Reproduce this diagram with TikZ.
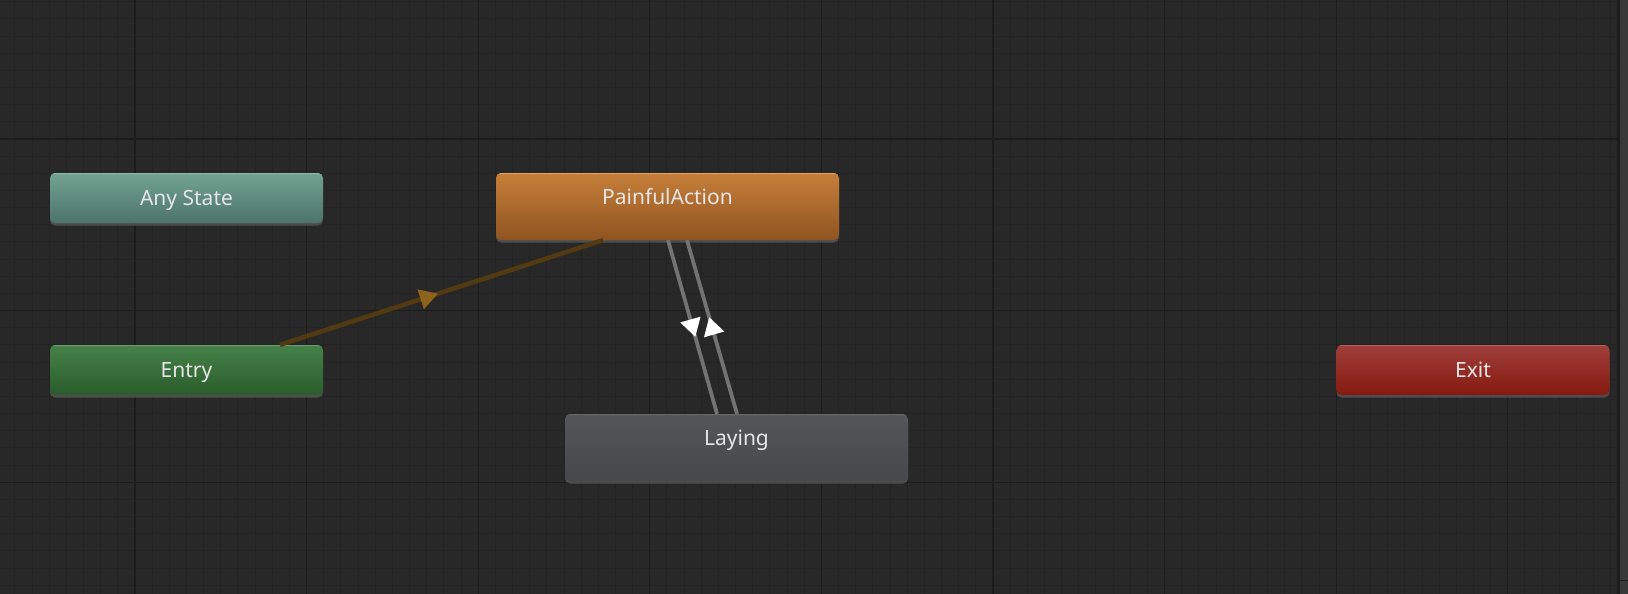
\documentclass[tikz,border=0pt]{standalone}
\usepackage{fontspec}
\setmainfont{Noto Sans}
\usetikzlibrary{arrows.meta,calc,decorations.markings,shadows}
\definecolor{bg}{HTML}{282828}
\definecolor{minorc}{HTML}{232323}
\definecolor{majorc}{HTML}{1C1C1C}
\definecolor{txt}{HTML}{E6E6E6}
\definecolor{anyT}{HTML}{72A393}
\definecolor{anyB}{HTML}{4C7468}
\definecolor{anyD}{HTML}{8DB8A9}
\definecolor{entT}{HTML}{468249}
\definecolor{entB}{HTML}{2A5C2B}
\definecolor{entD}{HTML}{6A9E70}
\definecolor{paT}{HTML}{C77F3A}
\definecolor{paB}{HTML}{8F5420}
\definecolor{paD}{HTML}{E0A468}
\definecolor{laT}{HTML}{55565A}
\definecolor{laB}{HTML}{47484C}
\definecolor{laD}{HTML}{6A6B6F}
\definecolor{exT}{HTML}{A03F3B}
\definecolor{exB}{HTML}{85190F}
\definecolor{exD}{HTML}{B6605C}
\definecolor{brline}{HTML}{523A12}
\definecolor{brarrow}{HTML}{8D621C}
\definecolor{grline}{HTML}{737373}
\definecolor{stripc}{HTML}{393939}
\tikzset{
  statebox/.style={rounded corners=5pt, text=txt, font=\fontsize{21}{21}\selectfont,
    inner sep=0pt,
    drop shadow={opacity=0.45, shadow xshift=0pt, shadow yshift=-2.5pt}},
  hilite/.style={path picture={\draw[#1, line width=2pt]
      (path picture bounding box.north west) -- (path picture bounding box.north east);}},
  smallstate/.style={statebox, minimum width=273pt, minimum height=50pt, text height=18pt, text depth=4pt},
  bigstate/.style={statebox, minimum width=343pt, minimum height=67pt, text height=15pt, text depth=20pt},
  entryconn/.style={brline, line width=4.5pt,
    decoration={markings, mark=at position 0.49 with {\arrow{Triangle[length=18.5pt,width=19.5pt,color=brarrow]}}},
    postaction=decorate},
  transconn/.style={grline, line width=3.8pt,
    decoration={markings, mark=at position 0.557 with {\arrow{Triangle[length=18pt,width=20pt,color=white]}}},
    postaction=decorate},
}
\begin{document}
\begin{tikzpicture}[x=1pt,y=-1pt]
\useasboundingbox (0,0) rectangle (1628,594);
\fill[bg] (0,0) rectangle (1628,594);
\begin{scope}
\clip (0,0) rectangle (1617,594);
\foreach \i in {-8,...,87} { \draw[minorc, line width=1pt] ({135+\i*17.16},0) -- ++(0,594); }
\foreach \j in {-9,...,27} { \draw[minorc, line width=1pt] (0,{139+\j*17.16}) -- ++(1628,0); }
\foreach \i in {-1,...,9} { \draw[majorc, line width=1.2pt] ({135+\i*171.6},0) -- ++(0,594); }
\foreach \j in {-1,...,3} { \draw[majorc, line width=1.2pt] (0,{139+\j*171.6}) -- ++(1628,0); }
\end{scope}
\fill[majorc] (1617,0) rectangle (1620,594);
\fill[stripc] (1620,0) rectangle (1628,594);
\draw[majorc, line width=1pt] (1620,580) -- (1628,580);

\node[smallstate, top color=anyT, bottom color=anyB, hilite=anyD] (any) at (186.5,198) {Any State};
\node[smallstate, top color=entT, bottom color=entB, hilite=entD] (entry) at (186.5,370) {Entry};
\node[bigstate, top color=paT, bottom color=paB, hilite=paD] (pa) at (667.5,206.5) {PainfulAction};
\node[bigstate, top color=laT, bottom color=laB, hilite=laD] (la) at (736.5,447.5) {Laying};
\node[smallstate, top color=exT, bottom color=exB, hilite=exD] (exit) at (1473,370) {Exit};

\draw[entryconn] ($(entry.north)+(93.5,0)$) -- ($(pa.south)+(-64.5,0)$);
\draw[transconn] ($(pa.south)+(0.5,0)$) -- ($(la.north)+(-19.5,0)$);
\draw[transconn] ($(la.north)+(0.5,0)$) -- ($(pa.south)+(19.5,0)$);
\end{tikzpicture}
\end{document}
